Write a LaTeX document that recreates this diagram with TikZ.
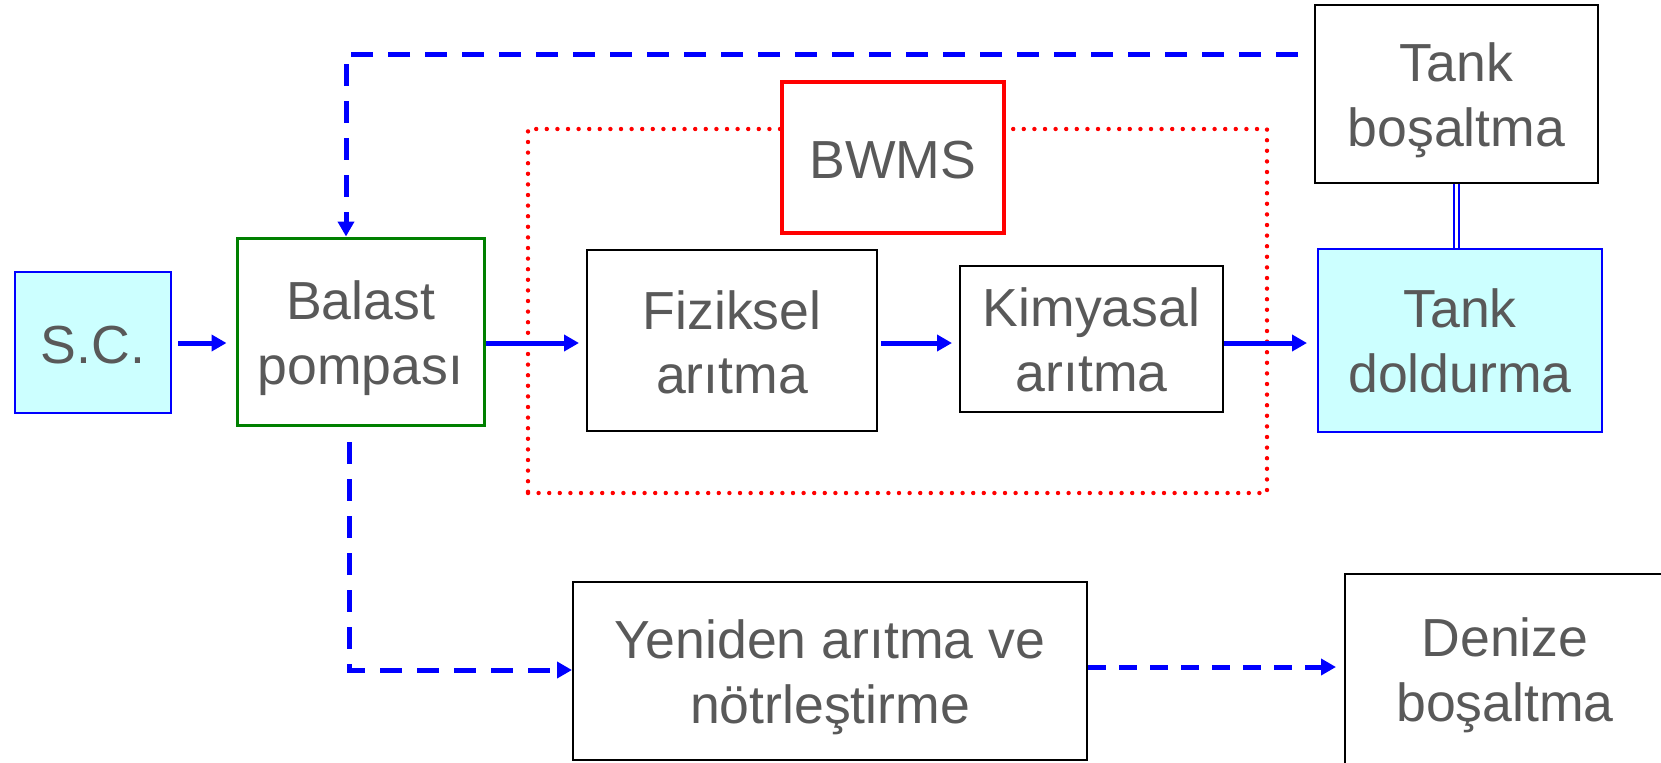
\documentclass[tikz,border=0pt]{standalone}
\usepackage{fontspec}
\setmainfont{Liberation Sans}
\usetikzlibrary{arrows.meta}
\definecolor{textgray}{HTML}{595959}
\definecolor{lightcyan}{HTML}{CCFFFF}
\definecolor{dgreen}{HTML}{008000}
\newcommand\dn[2]{\raisebox{-#1}[\height][\depth]{\begin{tabular}{@{}c@{}}#2\end{tabular}}}
\begin{document}
\begin{tikzpicture}[x=0.5pt,y=-0.5pt,
  box/.style={draw=black, line width=1pt, fill=white, inner sep=0pt, align=center,
    text=textgray, font=\fontsize{26.8}{32.3}\selectfont},
  bluebox/.style={box, draw=blue, fill=lightcyan},
  greenbox/.style={box, draw=dgreen, line width=1.5pt},
  redbox/.style={box, draw=red, line width=2pt},
  dotframe/.style={draw=red, line width=2.2pt, dash pattern=on 0pt off 5.3pt, line cap=round, inner sep=0pt},
  flow/.style={draw=blue, line width=2.5pt, -{Triangle[length=7.5pt,width=8pt]}},
  dflow/.style={flow, dash pattern=on 11pt off 7.5pt},
  dflowb/.style={flow, dash pattern=on 9pt off 6.5pt},
  link/.style={draw=blue, line width=1pt, double=white, double distance=1.6pt}
]
\useasboundingbox (0,0) rectangle (1661,762);

% red dotted frame
\node[dotframe, minimum width=369.5pt, minimum height=182pt] (frame) at (897.5,311) {};

% boxes
\node[bluebox, minimum width=78pt, minimum height=70.5pt] (sc) at (93,342.5) {\dn{3.9pt}{S.C.}};
\node[greenbox, minimum width=123.5pt, minimum height=93.5pt] (balast) at (360.5,331.5) {\dn{3.9pt}{Balast\\pompası}};
\node[box, minimum width=145pt, minimum height=90.5pt] (fiz) at (732,340.5) {\dn{4pt}{Fiziksel\\arıtma}};
\node[box, minimum width=131.5pt, minimum height=73pt] (kim) at (1091.5,339) {\dn{3.6pt}{Kimyasal\\arıtma}};
\node[redbox, minimum width=111pt, minimum height=75.5pt] (bwms) at (893,157.5) {\dn{4pt}{BWMS}};
\node[box, minimum width=141.5pt, minimum height=89pt] (tankb) at (1456.5,94) {\dn{3.4pt}{Tank\\boşaltma}};
\node[bluebox, minimum width=142pt, minimum height=91.5pt] (tankd) at (1460,340.5) {\dn{3.4pt}{Tank\\doldurma}};
\node[box, minimum width=257pt, minimum height=89pt] (yen) at (830,671) {\dn{3.6pt}{Yeniden arıtma ve\\nötrleştirme}};
\node[box, minimum width=160pt, minimum height=95pt] (den) at (1505,669) {\dn{3.6pt}{Denize\\boşaltma}};

% helper coordinates
\coordinate (row) at (0,343);
\coordinate (d1) at (1298,54);
\coordinate (d2) at (346,54);
\coordinate (b1) at (349,442);
\coordinate (m) at (0,667);

% solid flow arrows
\draw[flow, shorten <=3pt, shorten >=4.5pt] (sc.east |- row) -- (balast.west |- row);
\draw[flow, shorten >=3.5pt] (balast.east |- row) -- (fiz.west |- row);
\draw[flow, shorten <=1.5pt, shorten >=3.5pt] (fiz.east |- row) -- (kim.west |- row);
\draw[flow, shorten >=5pt] (kim.east |- row) -- (tankd.west |- row);

% tank link
\draw[link] (tankb.south) -- (tankb.south |- tankd.north);

% dashed arrows
\draw[dflow] (d1) -- (d2) -- (d2 |- balast.north);
\draw[dflow] (b1) |- ([yshift=0.5pt]yen.west);
\draw[dflowb, shorten >=4pt] (yen.east |- m) -- (den.west |- m);
\end{tikzpicture}
\end{document}
